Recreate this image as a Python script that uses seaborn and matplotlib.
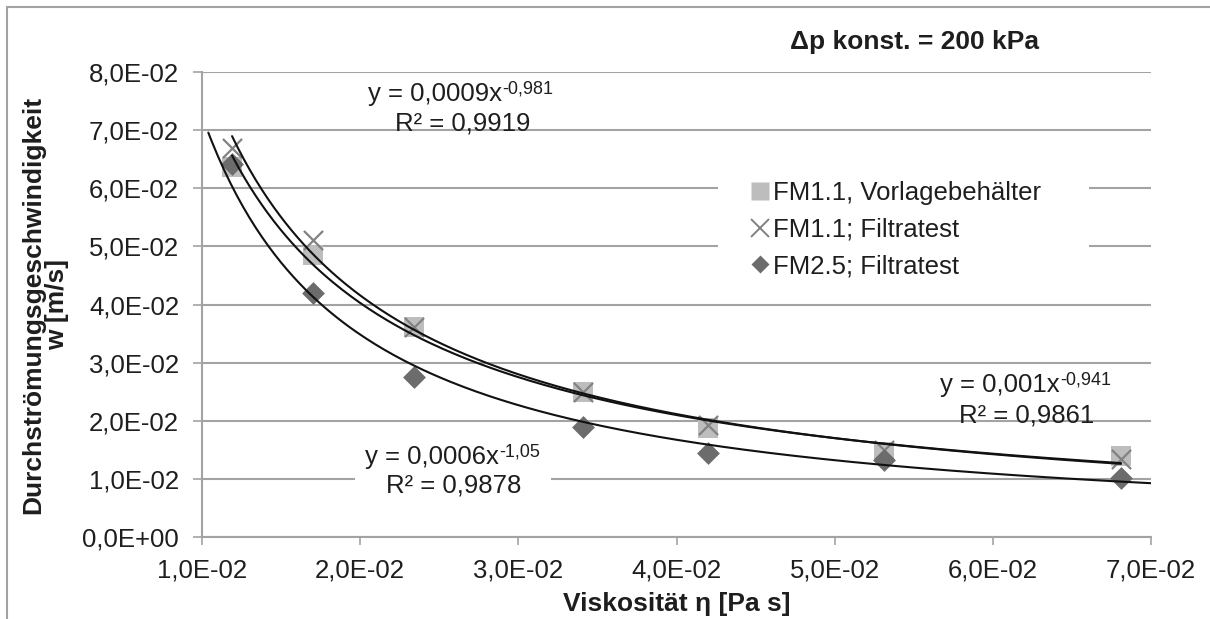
import numpy as np
import pandas as pd
import matplotlib
matplotlib.use("Agg")
import matplotlib.pyplot as plt
from matplotlib.patches import Rectangle
from matplotlib.lines import Line2D
from matplotlib.ticker import FuncFormatter
import seaborn as sns

# Viscosity of the test fluid [Pa s]
viscosity = [0.0119, 0.0170, 0.0234, 0.0341, 0.0420, 0.0531, 0.0681]

# Flow velocity w [m/s] for each filter medium / test
w_fm11_vorlage = [0.0637, 0.0485, 0.0362, 0.0250, 0.0187, 0.0147, 0.0139]
w_fm11_filtrat = [0.0670, 0.0511, 0.0362, 0.0250, 0.0192, 0.0150, 0.0135]
w_fm25_filtrat = [0.0642, 0.0420, 0.0276, 0.0190, 0.0144, 0.0133, 0.0101]

series_names = ["FM1.1, Vorlagebehälter", "FM1.1; Filtratest", "FM2.5; Filtratest"]

# Power-law trend line annotations (coefficient, exponent, R²)
fit_coef = ["0,001", "0,0009", "0,0006"]
fit_exp = ["-0,941", "-0,981", "-1,05"]
fit_r2 = ["0,9861", "0,9919", "0,9878"]

y_ticks = [0.0, 0.01, 0.02, 0.03, 0.04, 0.05, 0.06, 0.07, 0.08]
x_ticks = [0.01, 0.02, 0.03, 0.04, 0.05, 0.06, 0.07]

sns.set_style("white")
plt.rcParams["font.family"] = ["Liberation Sans", "DejaVu Sans"]

TXT = "#1e1e1e"
GRID = "#a3a3a3"
FS = 18.5
FS_B = 19
FS_SUP = 13

df = pd.DataFrame({
    "eta": viscosity * 3,
    "w": w_fm11_vorlage + w_fm11_filtrat + w_fm25_filtrat,
    "series": sum([[n] * len(viscosity) for n in series_names], []),
})

W, H = 1210, 619
fig = plt.figure(figsize=(W / 100, H / 100), dpi=100)
ax = fig.add_axes([202 / W, 1 - 537 / H, (1151 - 202) / W, (537 - 72) / H])

colors = {"FM1.1, Vorlagebehälter": "#bdbdbd",
          "FM1.1; Filtratest": "#828282",
          "FM2.5; Filtratest": "#6c6c6c"}
markers = {"FM1.1, Vorlagebehälter": "s",
           "FM1.1; Filtratest": "x",
           "FM2.5; Filtratest": "D"}
sizes = {"FM1.1, Vorlagebehälter": 210,
         "FM1.1; Filtratest": 190,
         "FM2.5; Filtratest": 135}

for i, name in enumerate(series_names):
    sub = df[df["series"] == name]
    kw = dict(linewidth=1.6) if markers[name] == "x" else dict(linewidth=0)
    sns.scatterplot(data=sub, x="eta", y="w", ax=ax, color=colors[name],
                    marker=markers[name], s=sizes[name], zorder=3 + i,
                    legend=False, **kw)

# Power-law trend lines (least squares in log-log space)
x_arr = np.array(viscosity)
trend_ranges = [(x_arr[0], x_arr[-1]), (x_arr[0], x_arr[-1]), (0.0104, 0.0700)]
for name, yv, (x0, x1) in zip(series_names,
                              [w_fm11_vorlage, w_fm11_filtrat, w_fm25_filtrat],
                              trend_ranges):
    b, lna = np.polyfit(np.log(x_arr), np.log(np.array(yv)), 1)
    xs = np.linspace(x0, x1, 300)
    ax.plot(xs, np.exp(lna) * xs ** b, color="#111111", lw=1.5, zorder=8)

ax.set_xlim(0.01, 0.07)
ax.set_ylim(0.0, 0.08)
ax.set_xticks(x_ticks)
ax.set_yticks(y_ticks)
fmt = FuncFormatter(lambda v, p: f"{v:.1E}".replace(".", ","))
ax.xaxis.set_major_formatter(fmt)
ax.yaxis.set_major_formatter(fmt)

ax.grid(axis="y", color=GRID, lw=1.5)
ax.grid(axis="x", visible=False)
ax.set_axisbelow(True)
for s in ["top", "right"]:
    ax.spines[s].set_visible(False)
for s in ["left", "bottom"]:
    ax.spines[s].set_color(GRID)
    ax.spines[s].set_linewidth(1.5)
ax.tick_params(axis="y", direction="out", length=6.5, width=1.2, color=GRID,
               labelsize=FS, labelcolor=TXT, pad=10, left=True)
ax.tick_params(axis="x", direction="out", length=5.5, width=1.2, color=GRID,
               labelsize=FS, labelcolor=TXT, pad=10, bottom=True)

ax.set_xlabel("Viskosität η [Pa s]", fontsize=FS_B, fontweight="bold", color=TXT)
ax.xaxis.set_label_coords(0.5, (537 - 604) / 465)
ax.xaxis.label.set_va("center")
ax.set_ylabel("Durchströmungsgeschwindigkeit\nw [m/s]", fontsize=FS_B,
              fontweight="bold", color=TXT, linespacing=1.02)
ax.yaxis.set_label_coords((45 - 202) / 949, 0.5)
ax.yaxis.label.set_va("center")

# White backings (legend area and lower equation label) above the grid
ax.add_patch(Rectangle((718 / W, 1 - 285 / H), (1089 - 718) / W, (285 - 170) / H,
                       transform=fig.transFigure, facecolor="white",
                       edgecolor="none", zorder=1, clip_on=False))
ax.add_patch(Rectangle((355 / W, 1 - 500 / H), (551 - 355) / W, (500 - 440) / H,
                       transform=fig.transFigure, facecolor="white",
                       edgecolor="none", zorder=1, clip_on=False))

# Trend line equations: (line-1 left x, line-1 baseline, line-2 centre x, line-2 baseline)
label_pos = [(940, 392, 1026.5, 422), (368, 101, 462.5, 131), (365, 464, 453.5, 493)]
for c, e, r2, (lx, b1, cx, b2) in zip(fit_coef, fit_exp, fit_r2, label_pos):
    base = fig.text(lx / W, 1 - b1 / H, "y = " + c + "x", ha="left",
                    va="baseline", fontsize=FS, color=TXT, zorder=10)
    ax.annotate(e, xy=(1, 1), xycoords=base, xytext=(0.3, 1.2),
                textcoords="offset points", ha="left", va="top",
                fontsize=FS_SUP, color=TXT, zorder=10, annotation_clip=False)
    fig.text(cx / W, 1 - b2 / H, "R² = " + r2, ha="center", va="baseline",
             fontsize=FS, color=TXT, zorder=10)

handles = [
    Line2D([], [], ls="none", marker="s", ms=12.7, color=colors[series_names[0]],
           mec="none"),
    Line2D([], [], ls="none", marker="x", ms=12.7, mew=1.4,
           color=colors[series_names[1]]),
    Line2D([], [], ls="none", marker="D", ms=9.5, color=colors[series_names[2]],
           mec="none"),
]
leg = ax.legend(handles, series_names, loc="center left",
                bbox_to_anchor=(750 / W, 1 - 229.5 / H),
                bbox_transform=fig.transFigure, frameon=False, fontsize=FS,
                handlelength=0.75, handletextpad=0.15, borderpad=0,
                labelspacing=0.5, borderaxespad=0)
for t in leg.get_texts():
    t.set_color(TXT)
leg.set_zorder(11)

fig.text(790 / W, 1 - 42 / H, "Δp konst. = 200 kPa", ha="left", va="center",
         fontsize=FS_B, fontweight="bold", color=TXT)

# Chart frame
fig.add_artist(Rectangle((7 / W, -0.1), 1.2, 1.1 - 7 / H, transform=fig.transFigure,
                         fill=False, edgecolor=GRID, lw=1.5))

fig.savefig("out.png", dpi=100)
